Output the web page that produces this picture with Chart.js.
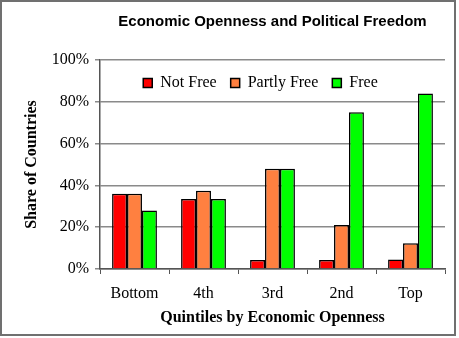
<!DOCTYPE html>
<html>
<head>
<meta charset="utf-8">
<script src="https://cdn.jsdelivr.net/npm/chart.js@4/dist/chart.umd.min.js"></script>
<style>
  html, body { margin: 0; padding: 0; background: #fff; }
  #frame { position: absolute; left: 0; top: 0; width: 452px; height: 332px; border: 2px solid #707070; }
  #chart { display: block; }
</style>
</head>
<body>
<div id="frame"><canvas id="chart" width="452" height="332"></canvas></div>
<script>
const quintiles = ['Bottom', '4th', '3rd', '2nd', 'Top'];
const notFree = [36, 33.5, 4.3, 4.3, 4.6];
const partlyFree = [36, 37.5, 48, 21, 12.3];
const free = [28, 33.5, 48, 75, 84];

const serif = 'Liberation Serif';

// keep the legend out of the layout, then drop it inside the plot area
const legendInside = {
    id: 'legendInside',
    beforeLayout(chart) {
        const lg = chart.legend;
        if (lg && !lg._patched) {
            const fit = lg.fit;
            lg.fit = function () { fit.call(this); this.height = 0; };
            lg._patched = true;
        }
    },
    afterLayout(chart) {
        const lg = chart.legend;
        const area = chart.chartArea;
        lg.top = area.top + 1;
        lg.bottom = lg.top + 40;
        lg.left = area.left - 12;
        lg.right = area.right - 12;
    }
};

new Chart(document.getElementById('chart').getContext('2d'), {
    type: 'bar',
    data: {
        labels: quintiles,
        datasets: [
            { label: 'Not Free', data: notFree, backgroundColor: '#ff0000' },
            { label: 'Partly Free', data: partlyFree, backgroundColor: '#ff8040' },
            { label: 'Free', data: free, backgroundColor: '#00ff00' }
        ]
    },
    options: {
        responsive: false,
        animation: false,
        layout: { padding: { left: 0, right: 9, top: 0, bottom: 0 } },
        datasets: {
            bar: {
                borderColor: '#000',
                borderWidth: 1.5,
                barPercentage: 1,
                categoryPercentage: 0.65
            }
        },
        scales: {
            x: {
                grid: { offset: true, drawOnChartArea: false, tickLength: 5, color: '#555' },
                border: { color: '#555', width: 1.5 },
                ticks: { color: '#000', font: { family: serif, size: 16 }, padding: 10 },
                title: {
                    display: true, text: 'Quintiles by Economic Openness', color: '#000',
                    font: { family: serif, size: 16, weight: 'bold' }, padding: { top: 0, bottom: 7 }
                },
                afterFit: s => { s.height = 65; }
            },
            y: {
                min: 0, max: 100,
                grid: { color: '#8a8a8a', lineWidth: 1.5, tickLength: 5 },
                border: { color: '#555', width: 1.5 },
                ticks: {
                    stepSize: 20, color: '#000', padding: 6,
                    font: { family: serif, size: 16 },
                    callback: v => v + '%'
                },
                title: {
                    display: true, text: 'Share of Countries', color: '#000',
                    font: { family: serif, size: 16, weight: 'bold' }, padding: { top: 20, bottom: 0 }
                },
                afterFit: s => { s.width = 98; }
            }
        },
        plugins: {
            title: {
                display: true,
                fullSize: false,
                text: 'Economic Openness and Political Freedom',
                color: '#000',
                font: { family: 'Liberation Sans', size: 15, weight: 'bold' },
                padding: { top: 11, bottom: 29 }
            },
            legend: {
                position: 'top',
                fullSize: false,
                labels: {
                    color: '#000',
                    font: { family: serif, size: 16 },
                    boxWidth: 9,
                    boxHeight: 9,
                    padding: 14
                }
            },
            tooltip: { enabled: false }
        }
    },
    plugins: [legendInside]
});
</script>
</body>
</html>
